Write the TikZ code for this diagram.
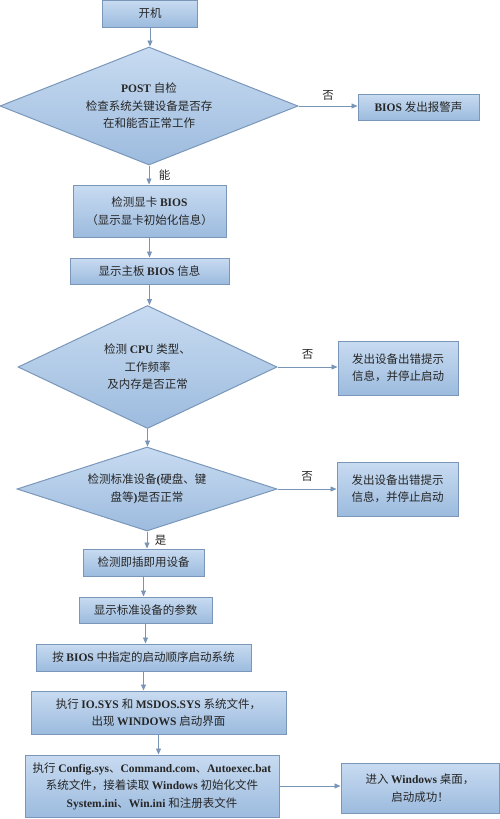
\documentclass[tikz,border=0pt]{standalone}
\usepackage{fontspec}
\usepackage{xcolor}
\usepackage{tikz}
\usetikzlibrary{positioning, arrows.meta, shapes.geometric}
\setmainfont{Liberation Serif}
\newfontfamily\cjkfont{Noto Sans CJK SC}
\newXeTeXintercharclass\cjkclass
\newcount\cjkcode
\cjkcode="3000
\loop \XeTeXcharclass\cjkcode=\cjkclass \advance\cjkcode by 1 \ifnum\cjkcode<"A000 \repeat
\cjkcode="FF00
\loop \XeTeXcharclass\cjkcode=\cjkclass \advance\cjkcode by 1 \ifnum\cjkcode<"FFF0 \repeat
\XeTeXinterchartokenstate=1
\XeTeXinterchartoks 0 \cjkclass = {\cjkfont\mdseries}
\XeTeXinterchartoks 4095 \cjkclass = {\cjkfont\mdseries}
\XeTeXinterchartoks \cjkclass 0 = {\rmfamily\bfseries}
\XeTeXinterchartoks 4095 0 = {\rmfamily\bfseries}
\definecolor{boxtop}{HTML}{C8DBF1}
\definecolor{boxbot}{HTML}{9CBBDE}
\definecolor{boxline}{HTML}{7A97BA}
\definecolor{arrowline}{HTML}{7894B6}
\definecolor{inktext}{HTML}{262626}
\tikzset{
  procbox/.style={draw=boxline, line width=1pt, top color=boxtop, bottom color=boxbot,
                  inner sep=2pt, align=center, text=inktext,
                  font=\fontsize{11.5}{17.5}\selectfont},
  decision/.style={procbox, diamond, inner sep=0pt},
  flowarrow/.style={draw=arrowline, line width=0.9pt, -{Triangle[length=6pt, width=5pt]}},
  answer/.style={text=inktext, font=\fontsize{11.5}{14}\selectfont}
}

\begin{document}
\begin{tikzpicture}[x=1pt, y=-1pt]
    \useasboundingbox (0,0) rectangle (500,819);
    \node[procbox, minimum width=95pt, minimum height=27pt] (start) at (150,13.5) {开机};
    \node[decision, aspect=2.5, minimum width=298pt, minimum height=118pt] (post) at (149,106)
      {POST 自检\\检查系统关键设备是否存\\在和能否正常工作};
    \node[procbox, minimum width=121pt, minimum height=26pt] (alarm) at (418.5,107) {BIOS 发出报警声};
    \node[procbox, minimum width=153pt, minimum height=52pt] (vga) at (149.5,211)
      {检测显卡 BIOS\\（显示显卡初始化信息）};
    \node[procbox, minimum width=159pt, minimum height=26pt] (board) at (149.5,271) {显示主板 BIOS 信息};
    \node[decision, aspect=2.1, minimum width=259pt, minimum height=123pt] (cpu) at (147.5,367)
      {检测 CPU 类型、\\工作频率\\及内存是否正常};
    \node[procbox, minimum width=120pt, minimum height=54pt] (errcpu) at (398,368)
      {发出设备出错提示\\信息，并停止启动};
    \node[decision, aspect=3.1, minimum width=260pt, minimum height=84pt] (std) at (147,489)
      {检测标准设备(硬盘、键\\盘等)是否正常};
    \node[procbox, minimum width=121pt, minimum height=54pt] (errstd) at (397.5,489)
      {发出设备出错提示\\信息，并停止启动};
    \node[procbox, minimum width=121pt, minimum height=27pt] (pnp) at (143.5,562.5) {检测即插即用设备};
    \node[procbox, minimum width=133pt, minimum height=26pt] (param) at (145.5,610) {显示标准设备的参数};
    \node[procbox, minimum width=215pt, minimum height=27pt] (boot) at (143.5,657.5)
      {按 BIOS 中指定的启动顺序启动系统};
    \node[procbox, minimum width=255pt, minimum height=43pt] (iosys) at (158.5,712.5)
      {执行 IO.SYS 和 MSDOS.SYS 系统文件，\\出现 WINDOWS 启动界面};
    \node[procbox, minimum width=254pt, minimum height=62pt] (config) at (152,786)
      {执行 Config.sys、Command.com、Autoexec.bat\\系统文件，接着读取 Windows 初始化文件\\System.ini、Win.ini 和注册表文件};
    \node[procbox, minimum width=158pt, minimum height=50pt] (desk) at (420,788)
      {进入 Windows 桌面，\\启动成功！};

    \draw[flowarrow] (start.south) -- (start.south |- post.north);
    \draw[flowarrow] (post.east) -- (post.east -| alarm.west) node[answer, midway, above=2pt] {否};
    \draw[flowarrow] (post.south) -- (post.south |- vga.north) node[answer, midway, right=6pt] {能};
    \draw[flowarrow] (vga.south) -- (vga.south |- board.north);
    \draw[flowarrow] (board.south) -- (board.south |- cpu.north);
    \draw[flowarrow] (cpu.east) -- (cpu.east -| errcpu.west) node[answer, midway, above=4pt] {否};
    \draw[flowarrow] (cpu.south) -- (cpu.south |- std.north);
    \draw[flowarrow] (std.east) -- (std.east -| errstd.west) node[answer, midway, above=4pt] {否};
    \draw[flowarrow] (std.south) -- (std.south |- pnp.north) node[answer, midway, right=4pt] {是};
    \draw[flowarrow] (pnp.south) -- (pnp.south |- param.north);
    \draw[flowarrow] (param.south) -- (param.south |- boot.north);
    \draw[flowarrow] (boot.south) -- (boot.south |- iosys.north);
    \draw[flowarrow] (iosys.south) -- (iosys.south |- config.north);
    \draw[flowarrow] (config.east) -- (config.east -| desk.west);
\end{tikzpicture}
\end{document}
